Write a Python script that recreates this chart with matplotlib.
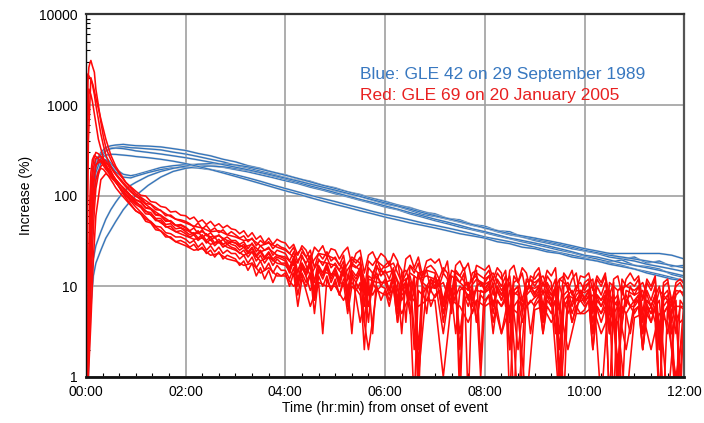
import numpy as np
import matplotlib
matplotlib.use('Agg')
import matplotlib.pyplot as plt
import matplotlib.patheffects as pe
from matplotlib.ticker import MultipleLocator, FuncFormatter, LogLocator, NullFormatter

plt.rcParams['font.family'] = ['Liberation Sans', 'DejaVu Sans']

# ---- data (hours after onset, percent increase) ----
t_blue = [0, 0.05, 0.1, 0.15, 0.2, 0.3, 0.4, 0.5, 0.6, 0.75, 0.9] + \
         list(np.arange(1.0, 12.001, 0.25))

blue_1 = [0.5, 8, 60, 150, 230, 300, 340, 355, 362, 368, 360,
          356, 352, 345, 330, 315, 292, 275, 252, 236, 214, 200, 180, 170, 153, 144,
          130, 122, 110, 103, 93, 87, 78, 74, 66, 63, 56, 54, 48, 46, 41,
          40, 35, 34, 30, 30, 26, 26, 23, 23, 20, 21, 18, 19, 16.5, 17]
blue_2 = [0.5, 3, 30, 110, 200, 280, 318, 333, 340, 346, 338,
          336, 328, 320, 302, 288, 270, 252, 236, 216, 202, 186, 172, 158, 146, 134,
          124, 113, 105, 98, 89, 81, 76, 69, 62, 59, 55, 51, 47, 44, 40,
          37, 35, 32, 30, 28, 26, 24.5, 23, 21, 20, 19, 17.5, 16.5, 15.5, 14.5]
blue_3 = [0.5, 5, 50, 160, 250, 290, 268, 228, 196, 172, 166,
          170, 186, 204, 214, 220, 221, 214, 206, 194, 183, 170, 158, 146, 136, 124,
          115, 105, 97, 89, 82, 75, 70, 63, 58, 53, 49, 45, 42, 39, 36,
          33.5, 31, 29, 27, 25, 23.5, 21.5, 20, 18.5, 19.5, 17, 16.5, 15.5, 13.5, 12.5]
blue_4 = [0.5, 2, 15, 70, 150, 230, 250, 214, 182, 160, 157,
          164, 180, 194, 203, 206, 202, 194, 183, 170, 157, 144, 131, 120, 110, 101,
          93, 86, 79, 73, 67, 62, 58, 54, 50, 47, 44, 41, 38, 35, 33,
          31, 29, 27, 25, 23.5, 22, 20.5, 19, 18, 17, 15.5, 14.5, 13.5, 12.5, 11.5]
blue_5 = [0.5, 1.5, 6, 13, 18, 25, 34, 42, 52, 70, 88,
          100, 130, 160, 185, 200, 210, 212, 208, 200, 190, 178, 165, 152, 140, 128,
          118, 108, 99, 91, 84, 77, 71, 65, 60, 55, 51, 47, 43, 40, 37,
          34, 32, 30, 28, 26, 24, 22, 21, 19.5, 18, 17, 16, 15, 14, 13]
blue_6 = [0.5, 1, 10, 20, 28, 40, 55, 70, 85, 110, 130,
          140, 165, 185, 200, 212, 222, 226, 224, 218, 208, 196, 182, 168, 155, 142,
          130, 120, 110, 101, 93, 86, 79, 73, 67, 61, 56, 52, 48, 44, 41,
          38, 35, 33, 31, 29, 27, 25, 23.5, 22, 21, 20, 19, 18, 17, 16]
blue_7 = [0.5, 4, 40, 130, 210, 260, 280, 286, 285, 280, 275,
          270, 262, 252, 240, 226, 210, 194, 178, 163, 149, 136, 124, 113, 104, 95,
          87, 80, 74, 68, 63, 58, 54, 50, 47, 44, 41, 38, 36, 34, 31,
          29.5, 27, 26, 24, 23, 21, 20, 19, 17.5, 16.5, 15.5, 14, 13, 12, 11.5]
blue_8 = [0.5, 2, 20, 90, 180, 260, 310, 330, 335, 330, 320,
          312, 300, 288, 275, 262, 248, 234, 220, 206, 193, 180, 168, 156, 145, 134,
          124, 115, 106, 98, 90, 83, 77, 71, 65, 60, 56, 52, 48, 44, 41,
          38, 36, 34, 32, 30, 28, 26, 24.5, 23, 23, 23, 23, 23, 22, 20]

# red stations sampled every 5 min after 02:00
t_red = [0, 0.02, 0.04, 0.06, 0.08, 0.1, 0.13, 0.17, 0.2, 0.25, 0.3, 0.35, 0.4,
         0.45, 0.5, 0.55, 0.6, 0.7, 0.8, 0.9, 1.0, 1.1, 1.2, 1.3, 1.4, 1.5, 1.6,
         1.7, 1.8, 1.9] + list(np.arange(0, 121) / 12 + 2.0)

red_1 = [0.5, 150, 1800, 2600, 2900, 3100, 2700, 2300, 1500, 1000, 650, 450, 340,
         290, 250, 220, 200, 165, 140, 125, 112, 101, 99, 86, 84, 76, 74, 66, 67, 61,
         60, 55, 58, 51, 54, 48, 52, 46, 49, 44, 47, 43,
         42, 38, 41, 35, 39, 33, 36, 30, 34, 29, 33, 31,
         30, 26, 29, 22, 28, 25, 19, 27, 24, 28, 21, 26,
         25, 20, 24, 27, 17, 23, 25, 14, 22, 24, 19, 23,
         21, 17, 23, 19, 10, 20, 22, 16, 21, 13, 19, 20,
         18, 20, 14, 19, 8, 17, 19, 15, 18, 11, 17, 16,
         15, 17, 12, 16, 14, 6, 15, 17, 11, 16, 14, 9,
         14, 16, 10, 15, 13, 16, 5, 14, 12, 15, 9, 13,
         12.5, 14, 9, 13, 11, 14, 3, 12, 13, 8, 12, 14,
         11.5, 13, 7, 12, 10, 13, 2, 11, 12, 6, 11, 12,
         10.5]
red_2 = [0.5, 900, 2200, 2100, 2000, 1900, 1700, 1300, 1000, 700, 480, 360, 280,
         240, 210, 185, 170, 145, 125, 110, 98, 94, 82, 80, 70, 69, 60, 61, 55, 54,
         52, 49, 45, 50, 43, 47, 41, 44, 39, 42, 37, 40,
         37, 34, 36, 31, 34, 28, 32, 29, 31, 26, 29, 27,
         26, 23, 27, 18, 24, 21, 25, 16, 23, 20, 24, 19,
         21, 17, 22, 12, 20, 18, 21, 9, 19, 17, 20, 15,
         17, 19, 13, 18, 15, 4, 17, 14, 18, 11, 16, 17,
         15, 12, 16, 14, 7, 15, 13, 16, 9, 14, 15, 1.5,
         13, 15, 10, 14, 12, 15, 5, 13, 11, 14, 8, 13,
         12, 14, 8, 13, 11, 3, 12, 13, 9, 12, 14, 7,
         11, 12, 6, 12, 10, 13, 8, 11, 0.5, 12, 10, 11,
         10, 12, 5, 11, 9, 12, 3, 10, 11, 7, 10, 11,
         9]
red_3 = [0.5, 40, 600, 1500, 1400, 1300, 1100, 800, 620, 420, 330, 260, 220,
         195, 180, 160, 150, 130, 115, 100, 90, 86, 74, 72, 62, 61, 53, 52, 47, 48,
         45, 41, 44, 38, 42, 36, 39, 34, 37, 33, 35, 32,
         32, 29, 31, 26, 30, 24, 28, 25, 27, 22, 25, 24,
         23, 19, 24, 14, 21, 18, 22, 11, 20, 17, 21, 16,
         18, 15, 19, 9, 17, 16, 18, 6, 16, 14, 17, 13,
         15, 12, 16, 7, 14, 15, 11, 2, 14, 13, 15, 9,
         13, 10, 14, 12, 5, 13, 11, 14, 0.5, 12, 13, 10,
         11, 13, 8, 12, 10, 13, 4, 11, 12, 7, 11, 12,
         10, 12, 6, 11, 9, 12, 1, 10, 11, 8, 10, 11,
         9, 11, 5, 10, 8, 11, 7, 0.5, 9, 10, 6, 10,
         8, 10, 4, 9, 7, 10, 0.5, 8, 9, 5, 8, 9,
         7.5]
red_4 = [0.5, 1.2, 3, 10, 40, 110, 200, 270, 300, 290, 270, 240, 210,
         195, 180, 165, 150, 130, 115, 100, 90, 84, 73, 71, 61, 60, 52, 53, 47, 47,
         44, 40, 37, 41, 34, 38, 32, 35, 30, 33, 29, 31,
         30, 27, 29, 24, 27, 22, 25, 21, 24, 20, 22, 21,
         20, 16, 21, 12, 18, 15, 19, 8, 17, 14, 18, 13,
         16, 12, 17, 7, 15, 13, 16, 10, 4, 14, 12, 15,
         13, 9, 14, 11, 3, 12, 13, 8, 14, 10, 5, 12,
         11, 12, 7, 11, 9, 12, 0.5, 10, 11, 6, 10, 11,
         9.5, 11, 6, 10, 8, 11, 2, 9, 10, 5, 9, 10,
         8.5, 10, 4, 9, 7, 10, 6, 0.5, 8, 9, 5, 9,
         7.5, 9, 3, 8, 7, 9, 5, 8, 1, 7, 8, 6,
         7, 8, 3, 7, 6, 8, 0.5, 7, 8, 4, 7, 0.5,
         6.5]
red_5 = [0.5, 0.8, 2, 5, 12, 35, 90, 160, 210, 245, 250, 230, 205,
         185, 170, 155, 140, 118, 102, 90, 80, 74, 63, 62, 53, 53, 45, 46, 40, 41,
         38, 35, 37, 32, 35, 30, 33, 28, 31, 27, 29, 27,
         26, 23, 25, 21, 24, 19, 22, 18, 21, 17, 20, 18,
         18, 14, 19, 10, 16, 13, 17, 7, 15, 12, 16, 11,
         14, 10, 15, 6, 13, 11, 14, 8, 12, 3, 13, 11,
         11, 8, 12, 5, 10, 11, 7, 12, 1.2, 10, 9, 11,
         9.5, 11, 6, 10, 8, 3, 9, 10, 7, 10, 4, 9,
         8.5, 10, 5, 9, 7, 10, 0.5, 8, 9, 6, 8, 9,
         7.5, 9, 4, 8, 6, 9, 2, 7, 8, 5, 7, 8,
         6.5, 8, 3, 7, 6, 8, 0.5, 6, 7, 4, 7, 6,
         6, 7, 2, 6, 5, 7, 4, 0.5, 6, 7, 3, 6,
         5.5]
red_6 = [0.5, 0.7, 1.5, 3, 8, 20, 55, 110, 150, 185, 200, 195, 180,
         165, 150, 136, 122, 104, 90, 78, 68, 63, 55, 52, 46, 45, 39, 38, 35, 35,
         33, 30, 32, 27, 30, 25, 28, 24, 27, 23, 25, 23,
         23, 20, 22, 18, 21, 16, 19, 15, 18, 14, 17, 15,
         15, 12, 16, 8, 14, 11, 14, 5, 13, 10, 13, 9,
         12, 8, 12, 10, 3, 11, 9, 12, 6, 11, 9, 10,
         9.5, 7, 10, 4, 9, 10, 6, 0.5, 9, 8, 10, 6,
         8, 9, 5, 8, 7, 9, 2, 8, 6, 9, 4, 8,
         7, 8, 4, 7, 6, 8, 5, 0.5, 7, 6, 8, 3,
         6.5, 8, 3, 7, 6, 7, 1, 6, 7, 4, 6, 7,
         6, 7, 2, 6, 5, 7, 4, 6, 0.5, 6, 5, 3,
         5.5, 6, 2, 5, 6, 4, 0.5, 5, 6, 3, 5, 1,
         5]
red_7 = [0.5, 1, 5, 25, 90, 180, 250, 280, 270, 255, 235, 215, 195,
         180, 165, 152, 140, 120, 105, 93, 83, 78, 67, 65, 56, 56, 48, 49, 43, 44,
         40, 37, 39, 34, 37, 32, 35, 30, 33, 29, 31, 29,
         28, 25, 27, 23, 26, 21, 24, 20, 23, 19, 21, 20,
         19, 15, 20, 11, 17, 14, 18, 9, 16, 13, 17, 12,
         15, 11, 16, 8, 14, 12, 15, 4, 13, 12, 14, 10,
         12, 9, 13, 6, 11, 12, 8, 13, 2, 11, 10, 12,
         10, 12, 6, 11, 9, 11, 1, 10, 11, 7, 10, 11,
         9, 11, 6, 10, 8, 10, 4, 9, 10, 0.5, 9, 10,
         8, 10, 5, 9, 7, 9, 3, 8, 9, 6, 8, 9,
         7, 9, 4, 8, 7, 8, 0.5, 7, 8, 5, 7, 8,
         6.5, 8, 3, 7, 6, 8, 2, 6, 7, 4, 0.5, 7,
         6]
red_8 = [0.5, 0.6, 1, 2, 4, 9, 25, 70, 120, 170, 210, 225, 230,
         215, 190, 165, 145, 115, 95, 80, 68, 63, 52, 50, 42, 41, 35, 35, 31, 32,
         30, 27, 29, 25, 27, 23, 25, 21, 24, 20, 22, 21,
         20, 17, 19, 15, 18, 13, 16, 12, 15, 11, 14, 13,
         14, 10, 14, 6, 12, 10, 13, 7, 11, 3, 12, 9,
         11, 8, 11, 5, 10, 9, 11, 2, 10, 8, 10, 7,
         9, 6, 10, 4, 8, 9, 5, 10, 0.5, 8, 7, 9,
         7.5, 9, 4, 8, 6, 8, 3, 7, 8, 5, 7, 1,
         6.5, 8, 3, 7, 6, 7, 2, 6, 7, 4, 6, 7,
         6, 7, 3, 6, 5, 7, 0.5, 6, 7, 4, 6, 5,
         5.5, 7, 2, 6, 5, 6, 3, 5, 6, 0.5, 5, 6,
         5, 6, 2, 5, 4, 6, 0.5, 5, 6, 3, 5, 4,
         4.5]

# further red stations sampled every 10 min after 02:00
t_red_b = [0, 0.05, 0.1, 0.15, 0.2, 0.3, 0.4, 0.5, 0.6, 0.8, 1.0, 1.2, 1.4,
           1.6, 1.8] + list(np.arange(0, 61) / 6 + 2.0)

red_9 = [0.5, 400, 2000, 1600, 1200, 700, 420, 280, 210, 140, 105, 88, 74, 63, 55,
         50, 46, 44, 40, 41, 37,
         35, 32, 33, 28, 30, 27,
         25, 21, 26, 17, 23, 22,
         20, 15, 21, 18, 8, 19,
         16, 18, 11, 17, 14, 15,
         14, 5, 15, 13, 10, 14,
         12, 14, 9, 13, 2, 12,
         11, 13, 8, 12, 10, 7,
         10, 12, 0.5, 11, 9, 10,
         9, 11, 6, 10, 3, 9,
         8.5]
red_10 = [0.5, 2, 30, 140, 220, 240, 215, 180, 150, 110, 86, 68, 55, 46, 40,
          36, 33, 34, 29, 31, 27,
          25, 22, 24, 19, 21, 18,
          17, 13, 18, 9, 15, 14,
          13.5, 10, 14, 4, 12, 11,
          11, 12, 7, 11, 1, 10,
          9.5, 11, 6, 10, 8, 9,
          8.5, 10, 3, 9, 8, 6,
          7.5, 9, 7, 0.5, 8, 7,
          7, 8, 4, 8, 6, 2,
          6.5, 8, 5, 7, 0.5, 6,
          6]
red_11 = [0.5, 5, 80, 200, 260, 270, 240, 205, 175, 130, 100, 80, 66, 56, 47,
          42, 38, 40, 35, 36, 32,
          30, 27, 29, 24, 26, 22,
          21, 17, 22, 13, 19, 18,
          17, 13, 18, 15, 6, 16,
          14, 15, 9, 14, 12, 13,
          12, 3, 13, 11, 9, 12,
          10.5, 12, 7, 11, 0.5, 10,
          9.5, 11, 8, 10, 5, 9,
          8.5, 10, 6, 9, 1.5, 9,
          8, 9, 4, 9, 7, 0.5,
          7.5]
red_12 = [0.5, 1, 4, 20, 60, 150, 175, 160, 140, 100, 75, 58, 45, 37, 31,
          28, 25, 26, 22, 23, 20,
          19, 17, 18, 14, 16, 13,
          13, 10, 13, 6, 11, 10,
          10, 7, 11, 8, 2, 9,
          8, 9, 5, 8, 6, 7,
          7, 1, 7, 6, 4, 7,
          6, 7, 3, 6, 5, 0.5,
          5.5, 6, 4, 6, 2, 5,
          5, 6, 3, 5, 4, 0.5,
          4.5, 5, 2, 5, 4, 1,
          4]

blue_series = [blue_1, blue_2, blue_3, blue_4, blue_5, blue_6, blue_7, blue_8]
red_series = [red_1, red_2, red_3, red_4, red_5, red_6, red_7, red_8]
red_series_b = [red_9, red_10, red_11, red_12]

blue_label = 'Blue: GLE 42 on 29 September 1989'
red_label = 'Red: GLE 69 on 20 January 2005'

# ---- figure ----
fig = plt.figure(figsize=(7.04, 4.23), dpi=100)
ax = fig.add_axes([0.122, 0.109, 0.850, 0.857])

for y in blue_series:
    ax.plot(t_blue, y, color='#2a72bf', lw=0.8,
            path_effects=[pe.Stroke(linewidth=1.4, foreground='#b8c0cc'), pe.Normal()])
for y in red_series:
    ax.plot(t_red, y, color='#ff0a0a', lw=1.15)
for y in red_series_b:
    ax.plot(t_red_b, y, color='#ff0a0a', lw=1.15)

ax.set_yscale('log')
ax.axis([0.0, 12.0, 1, 10000])
ax.xaxis.set_major_locator(MultipleLocator(2))
ax.xaxis.set_minor_locator(MultipleLocator(1 / 3))
ax.xaxis.set_major_formatter(FuncFormatter(lambda v, p: '%02d:00' % int(round(v))))
ax.yaxis.set_major_locator(LogLocator(base=10, numticks=10))
ax.yaxis.set_minor_locator(LogLocator(base=10, subs=np.arange(2, 10), numticks=10))
ax.yaxis.set_major_formatter(FuncFormatter(lambda v, p: '%d' % int(round(v))))
ax.yaxis.set_minor_formatter(NullFormatter())

ax.grid(True, which='major', color='#a0a0a0', lw=1.2)
ax.set_axisbelow(True)
ax.tick_params(which='both', direction='in', top=False, right=False,
               labelsize=10, colors='black')
ax.tick_params(which='major', length=0, pad=6)
ax.tick_params(which='minor', length=3, width=0.8)

ax.spines['bottom'].set_linewidth(2)
ax.spines['bottom'].set_color('#111111')
ax.spines['top'].set_linewidth(1.6)
ax.spines['top'].set_color('#333333')
ax.spines['left'].set_linewidth(1)
ax.spines['left'].set_color('#111111')
ax.spines['right'].set_linewidth(1.6)
ax.spines['right'].set_color('#555555')

ax.set_xlabel('Time (hr:min) from onset of event', fontsize=10, labelpad=1)
ax.set_ylabel('Increase (%)', fontsize=10, labelpad=4)

fig.text(0.512, 0.813, blue_label, color='#3878c0', fontsize=12.5, va='baseline')
fig.text(0.512, 0.763, red_label, color='#e82020', fontsize=12.5, va='baseline')

fig.savefig('out.png', dpi=100)
